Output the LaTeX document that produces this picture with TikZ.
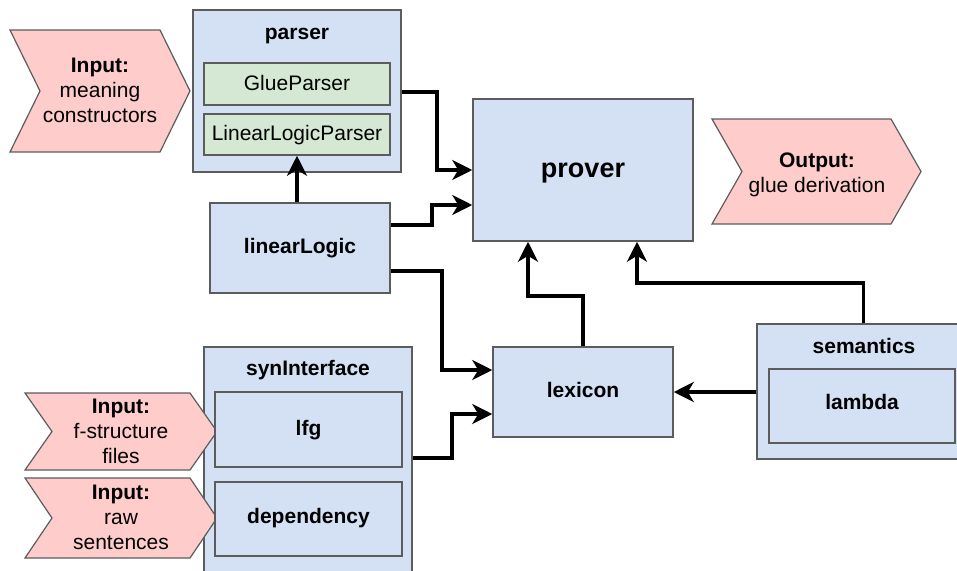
\documentclass[tikz,border=0pt]{standalone}
\usepackage{fontspec}
\setmainfont{Liberation Sans}
\usetikzlibrary{arrows.meta}

\definecolor{boxblue}{HTML}{D4E1F5}
\definecolor{boxgreen}{HTML}{D5E8D4}
\definecolor{ioPink}{HTML}{FFCCCC}
\definecolor{edgegray}{HTML}{5C5C5C}

\tikzset{
  module/.style={draw=edgegray, line width=1.5pt, fill=boxblue, inner sep=0pt,
    text height=11pt, text depth=0pt, font=\fontsize{21pt}{25pt}\selectfont\bfseries},
  subparser/.style={module, fill=boxgreen, font=\fontsize{21pt}{25pt}\selectfont},
  title/.style={anchor=base, inner sep=0pt, font=\fontsize{21pt}{25pt}\selectfont\bfseries},
  iotext/.style={anchor=north, inner sep=0pt, align=center, font=\fontsize{21pt}{25pt}\selectfont},
  chevronshape/.style={draw=edgegray, line width=1.2pt, fill=ioPink, line join=miter},
  conn/.style={line width=3.5pt, -{Stealth[length=20pt,width=20pt,inset=6pt]}},
}

% step-shaped input/output marker: x1 y1 x2 y2 depth
\newcommand\chevronat[5]{%
  \draw[chevronshape] (#1,#2) -- ({#3-#5},#2) -- (#3,{(#2+#4)/2}) -- ({#3-#5},#4)
    -- (#1,#4) -- ({#1+#5},{(#2+#4)/2}) -- cycle;}

\begin{document}
\begin{tikzpicture}[x=1pt, y=-1pt]
\useasboundingbox (0,0) rectangle (957,570);
\clip (0,0) rectangle (957,570);

% input and output markers of the prover side
\chevronat{10}{30}{190}{152}{30}
\node[iotext] (inMC) at (100,58) {\textbf{Input:}\\meaning\\constructors};
\chevronat{712}{119}{921}{224}{30}
\node[iotext] (outGD) at (817,153) {\textbf{Output:}\\glue derivation};

% parser package
\node[module, minimum width=208pt, minimum height=162pt] (parser) at (297,91) {};
\node[title] (parserT) at (297,39) {parser};
\node[subparser, minimum width=186pt, minimum height=42pt, text height=13pt] (glue) at (297,84) {GlueParser};
\node[subparser, minimum width=186pt, minimum height=41pt] (llp) at (297,134.5) {LinearLogicParser};

% plain modules
\node[module, minimum width=180pt, minimum height=90pt] (linearLogic) at (300,248) {linearLogic};
\node[module, minimum width=220pt, minimum height=142pt, text height=14pt,
      font=\fontsize{27pt}{32pt}\selectfont\bfseries] (prover) at (583,170) {prover};
\node[module, minimum width=180pt, minimum height=90pt, text height=10pt] (lexicon) at (583,392) {lexicon};

% semantics package
\node[module, minimum width=213pt, minimum height=135pt] (semantics) at (863.5,391.5) {};
\node[title] (semanticsT) at (864,353) {semantics};
\node[module, minimum width=186pt, minimum height=74pt, text height=6pt] (lambda) at (862,406) {lambda};

% synInterface package; its input markers overlap the package border
\node[module, minimum width=208pt, minimum height=253pt] (synInterface) at (308,473.5) {};
\node[title] (synInterfaceT) at (308,375) {synInterface};
\chevronat{25}{393}{217}{470}{27}
\node[iotext] (inFS) at (121,399) {\textbf{Input:}\\f-structure\\files};
\chevronat{25}{478}{217}{558}{27}
\node[iotext] (inRS) at (121,485) {\textbf{Input:}\\raw\\sentences};
\node[module, minimum width=187pt, minimum height=75pt] (lfg) at (308.5,429.5) {lfg};
\node[module, minimum width=187pt, minimum height=74pt, text height=8pt] (dependency) at (308.5,519) {dependency};

% dependencies
\draw[conn] (parser.east |- 0,92) -| (437,170) -- (prover.west |- 0,170);
\draw[conn] (linearLogic.east |- 0,225) -| (432,205) -- (prover.west |- 0,205);
\draw[conn] (linearLogic.east |- 0,271) -| (442,370) -- (lexicon.west |- 0,370);
\draw[conn] (synInterface.east |- 0,458) -| (452,414) -- (lexicon.west |- 0,414);
\draw[conn] (lexicon.north) |- (528,296) -- (prover.south -| 528,0);
\draw[conn] (semantics.north) |- (637,283) -- (prover.south -| 637,0);
\draw[conn] (semantics.west |- 0,392) -- (lexicon.east |- 0,392);
\draw[conn] (llp.south |- linearLogic.north) -- (llp.south);
\end{tikzpicture}
\end{document}
